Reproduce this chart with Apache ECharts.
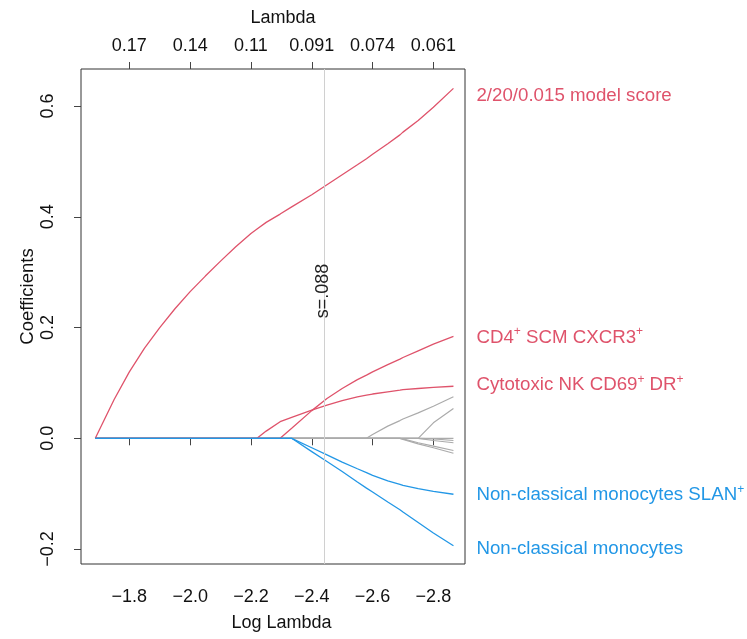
<!DOCTYPE html>
<html>
<head>
<meta charset="utf-8">
<script src="https://cdn.jsdelivr.net/npm/echarts@6/dist/echarts.min.js"></script>
<style>
  html, body { margin: 0; padding: 0; background: #fff; }
  #chart { width: 747px; height: 639px; }
</style>
</head>
<body>
<div id="chart"></div>
<script>
// log(lambda) grid of the lasso path
var logLambda = [-1.688, -1.75, -1.8, -1.85, -1.9, -1.95, -2.0, -2.05, -2.1, -2.15, -2.2, -2.22, -2.25, -2.296,
  -2.334, -2.4, -2.45, -2.5, -2.55, -2.58, -2.6, -2.65, -2.69, -2.7, -2.75, -2.8, -2.866]

var modelScore = [0, 0.07, 0.12, 0.163, 0.2, 0.234, 0.265, 0.293, 0.32, 0.346, 0.37, 0.378, 0.39, 0.405,
  0.418, 0.44, 0.458, 0.476, 0.494, 0.505, 0.513, 0.532, 0.548, 0.553, 0.574, 0.598, 0.632]
var cd4Scm = [0, 0, 0, 0, 0, 0, 0, 0, 0, 0, 0, 0, 0, 0,
  0.018, 0.05, 0.072, 0.09, 0.106, 0.114, 0.12, 0.133, 0.143, 0.146, 0.158, 0.17, 0.184]
var nkCd69 = [0, 0, 0, 0, 0, 0, 0, 0, 0, 0, 0, 0, 0.013, 0.03,
  0.038, 0.051, 0.06, 0.068, 0.075, 0.078, 0.08, 0.084, 0.087, 0.088, 0.09, 0.092, 0.094]
var monoSlan = [0, 0, 0, 0, 0, 0, 0, 0, 0, 0, 0, 0, 0, 0,
  0, -0.017, -0.03, -0.043, -0.055, -0.062, -0.067, -0.077, -0.083, -0.085, -0.091, -0.096, -0.101]
var monoNc = [0, 0, 0, 0, 0, 0, 0, 0, 0, 0, 0, 0, 0, 0,
  0, -0.024, -0.042, -0.06, -0.079, -0.09, -0.097, -0.115, -0.129, -0.133, -0.152, -0.171, -0.194]
// unlabelled coefficients (grey)
var grayA = [0, 0, 0, 0, 0, 0, 0, 0, 0, 0, 0, 0, 0, 0,
  0, 0, 0, 0, 0, 0, 0.007, 0.022, 0.032, 0.035, 0.046, 0.058, 0.075]
var grayB = [0, 0, 0, 0, 0, 0, 0, 0, 0, 0, 0, 0, 0, 0,
  0, 0, 0, 0, 0, 0, 0, 0, 0, 0, 0, 0.028, 0.054]
var grayN1 = [0, 0, 0, 0, 0, 0, 0, 0, 0, 0, 0, 0, 0, 0,
  0, 0, 0, 0, 0, 0, 0, 0, 0, -0.002, -0.01, -0.017, -0.027]
var grayN2 = [0, 0, 0, 0, 0, 0, 0, 0, 0, 0, 0, 0, 0, 0,
  0, 0, 0, 0, 0, 0, 0, 0, 0, -0.001, -0.008, -0.014, -0.022]
var grayN3 = [0, 0, 0, 0, 0, 0, 0, 0, 0, 0, 0, 0, 0, 0,
  0, 0, 0, 0, 0, 0, 0, 0, 0, 0, 0, -0.004, -0.008]
var grayN4 = [0, 0, 0, 0, 0, 0, 0, 0, 0, 0, 0, 0, 0, 0,
  0, 0, 0, 0, 0, 0, 0, 0, 0, 0, 0, -0.001, -0.004]
var zeroPath = [0, 0, 0, 0, 0, 0, 0, 0, 0, 0, 0, 0, 0, 0,
  0, 0, 0, 0, 0, 0, 0, 0, 0, 0, 0, 0, 0]

var xTicks = [-1.8, -2.0, -2.2, -2.4, -2.6, -2.8]
var yTicks = [-0.2, 0, 0.2, 0.4, 0.6]
var sLogLambda = -2.436
var sLabel = 's=.088'

var red = '#DF536B'
var blue = '#2297E6'
var grey = '#ABABAB'
var font = 'Liberation Sans, Arial, Helvetica, sans-serif'

function pairs (ys) {
  return logLambda.map(function (x, i) { return [x, ys[i]] })
}
function minus (s) {
  return s.replace('-', '\u2212')
}

function labelled (name, ys, color, dy) {
  return {
    name: name,
    type: 'line',
    data: pairs(ys),
    showSymbol: false,
    lineStyle: { color: color, width: 1.3 },
    endLabel: {
      show: true,
      align: 'left',
      distance: -23,
      offset: [0, dy || 0],
      fontFamily: font,
      fontSize: 18.7,
      color: color,
      lineHeight: 24,
      formatter: name,
      rich: {
        n: { fontSize: 18.7, color: color, fontFamily: font, lineHeight: 24 },
        s: { fontSize: 12, color: color, fontFamily: font, lineHeight: 24, verticalAlign: 'top' }
      }
    }
  }
}
function plain (ys) {
  return {
    type: 'line',
    data: pairs(ys),
    showSymbol: false,
    lineStyle: { color: grey, width: 1.2 }
  }
}

var series = [
  plain(zeroPath), plain(grayA), plain(grayB), plain(grayN1), plain(grayN2), plain(grayN3), plain(grayN4),
  labelled('{n|2/20/0.015 model score}', modelScore, red, 7),
  labelled('{n|CD4}{s|+}{n| SCM CXCR3}{s|+}', cd4Scm, red, 1),
  labelled('{n|Cytotoxic NK CD69}{s|+}{n| DR}{s|+}', nkCd69, red, -1),
  labelled('{n|Non-classical monocytes SLAN}{s|+}', monoSlan, blue, 1),
  labelled('{n|Non-classical monocytes}', monoNc, blue, 3)
]
series[0].markLine = {
  silent: true,
  symbol: 'none',
  label: { show: false },
  lineStyle: { color: '#D0D0D0', width: 1, type: 'solid' },
  data: [{ xAxis: sLogLambda }]
}
series[0].markPoint = {
  symbolSize: 0,
  label: {
    show: true,
    position: 'inside',
    rotate: 90,
    color: '#222',
    fontSize: 18,
    fontFamily: font,
    formatter: sLabel
  },
  data: [{ coord: [sLogLambda, 0.266] }]
}

var axisCommon = {
  type: 'value',
  min: -2.904,
  max: -1.641,
  inverse: true,
  axisLine: { show: false },
  splitLine: { show: false },
  axisTick: { show: true, length: 7, customValues: xTicks, lineStyle: { color: '#444' } },
  nameLocation: 'middle',
  nameMoveOverlap: false
}

var option = {
  animation: false,
  backgroundColor: '#fff',
  grid: {
    left: 81,
    right: 282,
    top: 69,
    bottom: 75,
    show: true,
    borderColor: '#333',
    borderWidth: 1,
    backgroundColor: 'transparent'
  },
  xAxis: [
    Object.assign({}, axisCommon, {
      position: 'bottom',
      name: 'Log Lambda',
      nameGap: 50,
      nameTextStyle: { fontSize: 18, color: '#111', fontFamily: font, padding: [0, 0, 0, 17] },
      axisLabel: {
        customValues: xTicks,
        margin: 24,
        fontSize: 18,
        color: '#111',
        fontFamily: font,
        formatter: function (v) { return minus(v.toFixed(1)) }
      }
    }),
    Object.assign({}, axisCommon, {
      position: 'top',
      name: 'Lambda',
      nameGap: 42,
      nameTextStyle: { fontSize: 18, color: '#111', fontFamily: font, padding: [0, 0, 0, 20] },
      axisLabel: {
        customValues: xTicks,
        margin: 14,
        fontSize: 18,
        color: '#111',
        fontFamily: font,
        formatter: function (v) { return String(Number(Math.exp(v).toPrecision(2))) }
      }
    })
  ],
  yAxis: {
    type: 'value',
    min: -0.227,
    max: 0.667,
    name: 'Coefficients',
    nameLocation: 'middle',
    nameGap: 44,
    nameMoveOverlap: false,
    nameTextStyle: { fontSize: 18.5, color: '#111', fontFamily: font, padding: [0, 0, 0, 40] },
    axisLine: { show: false },
    splitLine: { show: false },
    axisTick: { show: true, length: 7, customValues: yTicks, lineStyle: { color: '#444' } },
    axisLabel: {
      customValues: yTicks,
      rotate: 90,
      margin: 24,
      fontSize: 18,
      color: '#111',
      fontFamily: font,
      formatter: function (v) { return minus(v.toFixed(1)) }
    }
  },
  series: series
}

var chart = echarts.init(document.getElementById('chart'))
chart.setOption(option)
</script>
</body>
</html>
